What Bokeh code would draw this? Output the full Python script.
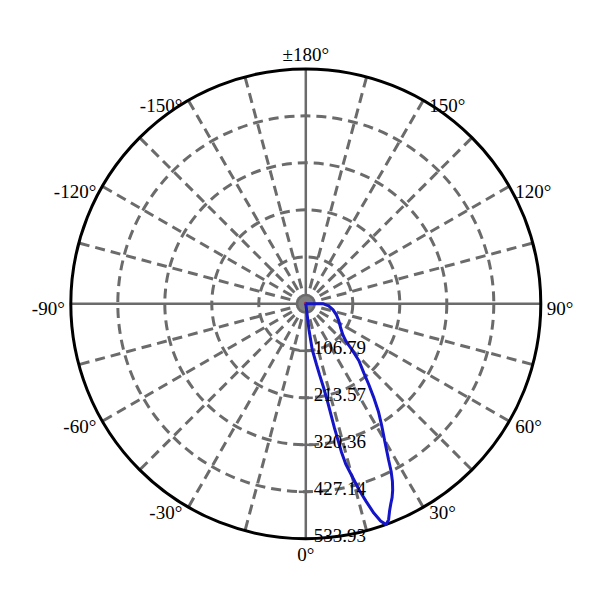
import numpy as np
from bokeh.plotting import figure
from bokeh.models import Range1d, ColumnDataSource
from bokeh.core.properties import value
from bokeh.embed import file_html
from bokeh.resources import INLINE

# ---- data ----
angles_deg = [0, 6, 7, 8, 9, 10, 11, 12, 12.5, 13, 13.5, 14, 15, 16, 17, 18, 19, 20,
              21, 22, 23, 24, 25, 26, 27, 28, 30, 32, 34, 36, 38, 40, 43, 45, 47,
              50, 55, 63, 70, 78, 85, 90, 92]
intensity = [0, 0, 60, 105, 120, 140, 165, 195, 225, 290, 345, 375, 405, 440, 470,
             500, 522, 533.93, 525, 508, 494, 482, 467, 449, 427, 400, 358, 325,
             295, 262, 232, 205, 177, 150, 125, 110, 97, 84, 74, 63, 52, 40, 0]
radial_ticks = [106.79, 213.57, 320.36, 427.14, 533.93]
radial_tick_labels = ["106.79", "213.57", "320.36", "427.14", "533.93"]
angle_label_deg = [0, 30, 60, 90, 120, 150, 180, -150, -120, -90, -60, -30]
angle_label_text = ["0°", "30°", "60°", "90°", "120°", "150°", "±180°",
                    "-150°", "-120°", "-90°", "-60°", "-30°"]
spoke_step = 15

# ---- layout ----
R = radial_ticks[-1]
PX = 235.0            # outer radius in pixels
s = R / PX            # data units per pixel
W = H = 584
cx, cy = 305.3, 303.3  # centre inside the frame, pixels

GRID = "#6b6b6b"
FONT = value("Liberation Serif")
FS = "19px"

p = figure(width=W, height=H, output_backend="svg", toolbar_location=None,
           x_range=Range1d(-cx * s, (W - cx) * s),
           y_range=Range1d(-(H - cy) * s, cy * s),
           x_axis_type=None, y_axis_type=None, min_border=0,
           outline_line_color=None)
p.background_fill_color = "white"
p.border_fill_color = "white"

# dashed spokes
dxs, dys = [], []
for a in range(0, 360, spoke_step):
    if a % 90 == 0:
        continue
    t = np.deg2rad(a)
    dxs.append([0, R * np.sin(t)])
    dys.append([0, -R * np.cos(t)])
p.multi_line(dxs, dys, line_color=GRID, line_width=3, line_dash="10 6")

# dashed rings
p.circle(x=[0] * 4, y=[0] * 4, radius=radial_ticks[:-1], fill_color=None,
         line_color=GRID, line_width=3, line_dash="10 6")

# solid axes
p.segment(x0=[-R, 0], y0=[0, -R], x1=[R, 0], y1=[0, R], line_color=GRID, line_width=2.5)

# ticks on the 0° axis
p.segment(x0=[-7 * s] * 5, y0=[-r for r in radial_ticks],
          x1=[7 * s] * 5, y1=[-r for r in radial_ticks],
          line_color=GRID, line_width=2.5)

# outer circle
p.circle(x=[0], y=[0], radius=[R], fill_color=None, line_color="black", line_width=3)

# centre marker
p.scatter(x=[0], y=[0], size=15, fill_color="#808080", line_color=None)
p.scatter(x=[0], y=[0], size=4, fill_color="#b0203c", line_color=None)

# curve
th = np.deg2rad(angles_deg)
r = np.array(intensity)
p.line(r * np.sin(th), -r * np.cos(th), line_color="#1414c8", line_width=3)

# radial labels
p.text(x=[8 * s] * 5, y=[-v + 3 * s for v in radial_ticks], text=radial_tick_labels,
       text_font=FONT, text_font_size=FS, text_align="left",
       text_baseline="middle", text_color="black")

# angle labels
lx, ly, la, lb = [], [], [], []
for a in angle_label_deg:
    t = np.deg2rad(a)
    sn, cs = np.sin(t), np.cos(t)
    if abs(sn) < 0.01:
        lx.append(0.0)
        if cs > 0:
            ly.append(-(R + 5 * s)); lb.append("top")
        else:
            ly.append(R + 4 * s); lb.append("bottom")
        la.append("center")
    else:
        side = 1 if sn > 0 else -1
        lx.append(R * sn + side * 6 * s)
        ly.append(-R * cs - 5 * s)
        la.append("left" if sn > 0 else "right")
        lb.append("middle")
src = ColumnDataSource(dict(x=lx, y=ly, text=angle_label_text, align=la, base=lb))
p.text(x="x", y="y", text="text", source=src, text_align="align",
       text_baseline="base", text_font=FONT, text_font_size=FS, text_color="black")

open("out.html", "w").write(file_html(p, INLINE))
